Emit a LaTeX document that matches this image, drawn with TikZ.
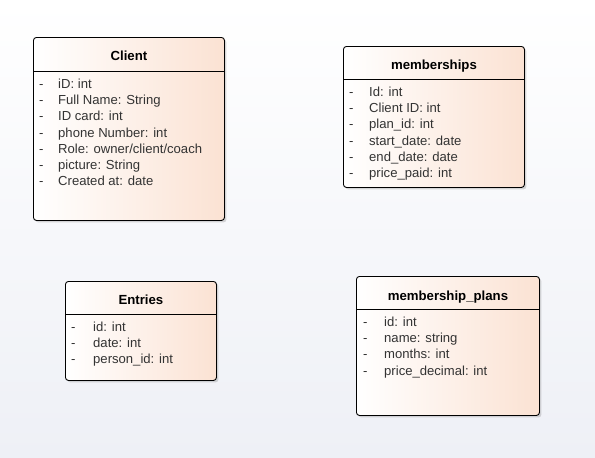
\documentclass[tikz,border=0pt]{standalone}
\usepackage{fontspec}
\setmainfont{Liberation Sans}
\usetikzlibrary{calc, positioning, shadows}

\definecolor{peach}{RGB}{251,226,211}
\definecolor{bgblue}{RGB}{238,240,246}

\begin{document}
\begin{tikzpicture}[x=1pt, y=-1pt, font=\fontsize{13.1}{15}\selectfont]
	\tikzstyle{cls} = [draw=black, line width=0.9pt, rounded corners=3pt, left color=white, right color=peach, drop shadow={shadow xshift=2pt, shadow yshift=-2pt, opacity=0.3}, anchor=north west, inner sep=0pt]
	\tikzstyle{head} = [font=\fontsize{13.2}{15}\selectfont\bfseries, inner sep=0pt, anchor=base]
	\tikzstyle{attr} = [anchor=base west, inner sep=0pt, text=black!80]
	\tikzstyle{sep} = [line width=0.9pt]

	\fill[top color=white, bottom color=bgblue] (0,0) rectangle (595,458);
	\useasboundingbox (0,0) rectangle (595,458);

	\node[cls, minimum width=191pt, minimum height=183pt] at (33,37)  (client) {};
	\node[cls, minimum width=181pt, minimum height=141pt] at (343,46) (memberships) {};
	\node[cls, minimum width=151pt, minimum height=99pt]  at (65,281) (entries) {};
	\node[cls, minimum width=183pt, minimum height=139pt] at (356,276) (plans) {};

	% headers
	\node[head] at ($(client.north)+(0,23.5)$)      (client-t)      {Client};
	\node[head] at ($(memberships.north)+(0,23.5)$) (memberships-t) {memberships};
	\node[head] at ($(entries.north)+(0,23.5)$)     (entries-t)     {Entries};
	\node[head] at ($(plans.north)+(0,24.5)$)       (plans-t)       {membership\_plans};

	\draw[sep] ($(client.north west)+(0,34)$) -- ($(client.north east)+(0,34)$);
	\draw[sep] ($(memberships.north west)+(0,33)$) -- ($(memberships.north east)+(0,33)$);
	\draw[sep] ($(entries.north west)+(0,33)$) -- ($(entries.north east)+(0,33)$);
	\draw[sep] ($(plans.north west)+(0,33)$) -- ($(plans.north east)+(0,33)$);

	% attributes
	\foreach \a [count=\i] in {iD: int, Full Name: String, ID card: int, phone Number: int, Role: owner/client/coach, picture: String, Created at: date}
		\node[attr] at ($(client.north west)+(6,51.5+16.2*\i-16.2)$) (client-\i) {\makebox[19pt][l]{-}\a};
	\foreach \a [count=\i] in {Id: int, Client ID: int, plan\_id: int, start\_date: date, end\_date: date, price\_paid: int}
		\node[attr] at ($(memberships.north west)+(6,50.5+16.2*\i-16.2)$) (memberships-\i) {\makebox[20pt][l]{-}\a};
	\foreach \a [count=\i] in {id: int, date: int, person\_id: int}
		\node[attr] at ($(entries.north west)+(6,50.5+16.2*\i-16.2)$) (entries-\i) {\makebox[22pt][l]{-}\a};
	\foreach \a [count=\i] in {id: int, name: string, months: int, price\_decimal: int}
		\node[attr] at ($(plans.north west)+(7,50.5+16.2*\i-16.2)$) (plans-\i) {\makebox[21pt][l]{-}\a};
\end{tikzpicture}
\end{document}
